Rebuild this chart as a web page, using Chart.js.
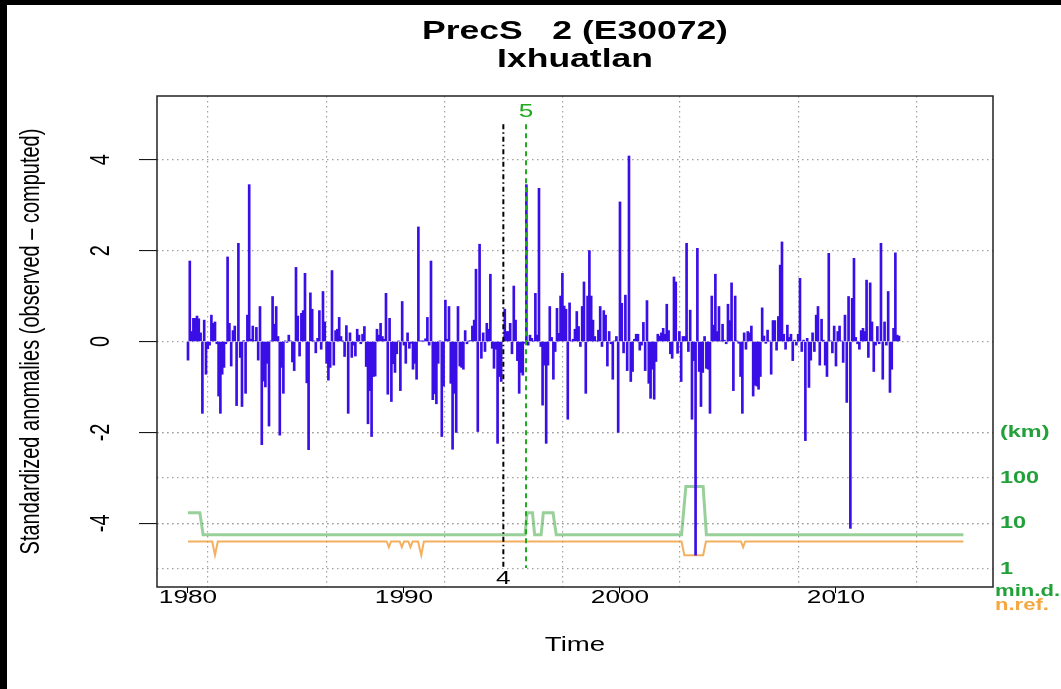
<!DOCTYPE html>
<html>
<head>
<meta charset="utf-8">
<script src="https://cdn.jsdelivr.net/npm/chart.js@4.4.1/dist/chart.umd.min.js"></script>
<style>
  html, body { margin: 0; padding: 0; background: #fff; }
  #wrap { width: 1061px; height: 689px; }
</style>
</head>
<body>
<div id="wrap"><canvas id="c" width="1061" height="689"></canvas></div>
<script>
// monthly standardized anomalies, Jan 1980 .. Dec 2012
let firstYear = 1980;
let anomalies = [
  // 1980 - 1986
  -0.41, 1.77, 0.22, 0.51, 0.51, 0.56, 0.50, 0.19, -1.58, 0.47,
  -0.72, -0.16, -0.08, 0.58, 0.40, 0.43, -0.05, -1.20, -1.58, -0.72,
  -0.57, -0.05, 1.86, 0.40, -0.54, 0.24, 0.34, -1.41, 2.16, -0.35,
  -1.43, 0.02, -1.14, 0.58, 3.45, 0.05, 0.34, 0.02, 0.31, -0.41,
  0.77, -2.27, -0.87, -1.00, -0.48, -1.86, 0.01, 0.99, 0.38, 0.77,
  0.11, -2.06, -0.57, -1.14, 0.01, -0.02, 0.14, 0.01, -0.45, -0.64,
  1.63, 0.56, -0.32, 0.62, 0.68, 1.50, -0.91, -2.38, 1.07, 0.71,
  0.01, -0.25, 0.07, 0.68, -0.17, 1.10, 0.43, -0.48, -0.85,
  // 1986 - 1993
  -0.57, 1.56, -0.52, 0.24, 0.27, 0.53, 0.11, 0.01, -0.33, 0.35,
  -1.58, 0.19, -0.35, -0.08, -0.32, 0.27, 0.14, -0.05, 0.16, 0.33,
  -0.55, -1.81, -1.08, -2.09, -0.77, -0.76, 0.27, 0.14, 0.40, 0.11,
  0.05, 1.06, -1.16, 0.51, -1.32, -0.49, -0.68, -0.27, 0.01, -1.08,
  0.88, -0.08, -0.48, 0.19, -0.15, -0.04, -0.61, -0.48, -0.83, 2.52,
  0.01, 0.01, 0.01, 0.06, 0.53, -0.08, 1.77, -1.28, -1.15, -1.37,
  -0.48, 0.01, -2.09, -0.98, 0.91, 0.05, 0.77, -0.92, -2.37, -1.14,
  -2.00, 0.77, -0.54, -0.57, -0.61, 0.24, -0.05, 0.01, 0.02, 0.34,
  // 1993 - 1999
  0.47, 1.59, -1.98, 2.14, -0.37, 0.19, -0.22, 0.40, 0.27, 1.48,
  -0.15, -0.59, -0.17, -2.24, -0.77, -0.88, 0.01, 0.71, 0.22, 0.22,
  0.40, -0.27, 1.22, 0.47, -0.42, -1.14, -0.68, -0.74, -0.04, 3.45,
  -0.08, 0.14, 0.07, 0.01, 1.06, 0.14, 3.37, -0.11, -1.40, -0.52,
  -2.24, -0.52, 0.77, 0.09, -0.83, -0.22, 0.73, 0.18, 1.00, 1.50,
  0.78, 0.71, -1.71, 0.85, 0.01, 0.05, 0.27, 0.66, 0.33, -0.11,
  0.77, 1.31, -1.14, 1.00, 2.00, 1.00, 0.47, 0.11, 0.01, 0.25,
  0.77, -0.11, 0.68, 0.58, -0.54, 0.22, -0.05, -0.83, 0.01, 0.11,
  // 1999 - 2006
  -2.00, 3.07, 0.84, -0.25, 1.02, -0.64, 4.08, -0.88, -0.66, 0.05,
  0.16, 0.16, -0.19, -0.08, 0.42, -0.64, 0.90, -0.92, -1.25, -0.61,
  -1.27, -0.44, 0.16, 0.12, 0.19, 0.29, 0.16, 0.82, 0.24, -0.27,
  -0.37, 1.42, 1.31, -0.26, 0.22, -0.88, 0.11, 0.11, 2.16, -0.22,
  0.69, -1.71, -0.42, -4.70, 2.05, -0.66, -1.43, -0.68, 0.11, -0.59,
  -0.61, -1.58, 1.00, 0.36, 1.48, 0.22, 0.77, 0.01, 0.38, 0.03,
  -0.05, 0.82, 0.46, 1.29, -1.08, 1.00, 0.01, -0.04, -0.77, -1.58,
  0.19, -0.17, 0.22, 0.19, 0.34, -1.20, -0.96, -0.98, -1.05, -0.77,
  // 2006 - 2012
  0.74, 0.12, -0.04, 0.25, 0.01, -0.72, 0.46, 0.46, -0.19, 0.55,
  1.68, 2.19, 0.16, -0.17, 0.36, 0.09, 0.16, -0.42, 0.03, -0.08,
  0.16, 1.39, -0.22, 0.03, -2.18, 0.07, -1.01, -0.41, 0.19, -0.22,
  0.58, 0.77, -0.52, 0.49, 0.03, -0.52, -0.77, 1.94, 0.01, -0.25,
  0.34, -0.54, 0.22, 0.34, 0.01, -0.46, 0.58, -1.34, 0.99, -4.11,
  0.95, 1.83, 0.09, -0.05, -0.17, 0.24, 0.29, 0.22, 1.35, -0.35,
  1.29, 0.43, -0.66, -0.08, 0.33, -0.05, 2.16, -0.83, 0.43, -0.08,
  1.10, -1.12, -0.61, 0.29, 1.95, 0.14, 0.12
];

// minimum distance to nearest reference station (km)
let minDYears = [1980.0, 1980.55, 1980.7, 1995.6, 1995.7, 1995.95, 1996.05, 1996.35, 1996.45, 1996.9, 1997.05, 2002.85, 2003.05, 2003.85, 2004.0, 2015.9];
let minDKm    = [17, 17, 5.6, 5.6, 17, 17, 5.6, 5.6, 17, 17, 5.6, 5.6, 65, 65, 5.6, 5.6];

// number of reference stations
let nRefYears = [1980.0, 1981.12, 1981.25, 1981.38, 1989.2, 1989.3, 1989.4, 1989.8, 1989.9, 1990.0, 1990.2, 1990.3, 1990.4, 1990.65, 1990.8, 1990.92, 2002.85, 2002.98, 2003.85, 2003.98, 2005.6, 2005.7, 2005.8, 2015.9];
let nRefCount = [4, 4, 2, 4, 4, 3, 4, 4, 3, 4, 4, 3, 4, 4, 2, 4, 4, 2, 2, 4, 4, 3, 4, 4];

// detected breaks
let breakYears  = [1994.6, 1995.65];
let breakLabels = ['4', '5'];
let breakColors = ['#000000', '#1faa1f'];

let yearTicks = [1980, 1990, 2000, 2010];
let gridYears = [1980.93, 1986.44, 1991.9, 1997.36, 2002.78, 2008.29, 2013.75];
let leftTicks = [-4, -2, 0, 2, 4];
let rightTicks = [-5, -4, -3, -2];
let rightLabels = ['1', '10', '100', '(km)'];

let FONT = '"Liberation Sans", Arial, sans-serif';
let SX = 1.38; // text in the picture is drawn wide
let GREEN = '#22a03a';
let ORANGE = '#f4a640';
let gridDash = { display: false, dash: [1.5, 3.5] };

let bars = anomalies.map((v, i) => ({ x: firstYear + i / 12, y: v }));
let minDLine = minDYears.map((t, i) => ({ x: t, y: -5 + Math.log10(minDKm[i]) }));
let nRefLine = nRefYears.map((t, i) => ({ x: t, y: -5 + Math.log10(nRefCount[i]) }));

let breakSets = breakYears.map((t, i) => ({
  type: 'line',
  data: [{ x: t, y: 4.78 }, { x: t, y: -4.98 }],
  borderColor: breakColors[i],
  borderWidth: 2,
  borderDash: i == 0 ? [5, 3, 1.5, 3] : [5, 4],
  pointRadius: 0,
  order: -1
}));

function txt(ctx, s, x, y, font, color, align, rot, sx) {
  ctx.save();
  ctx.translate(x, y);
  ctx.scale(sx || SX, 1);
  if (rot) ctx.rotate(rot);
  ctx.font = font;
  ctx.fillStyle = color;
  ctx.textAlign = align || 'center';
  ctx.textBaseline = 'middle';
  ctx.fillText(s, 0, 0);
  ctx.restore();
}

let decor = {
  id: 'decor',
  beforeDraw(chart) {
    let ctx = chart.ctx;
    ctx.save();
    ctx.fillStyle = '#fff';
    ctx.fillRect(0, 0, chart.width, chart.height);
    ctx.restore();
  },
  afterDraw(chart) {
    let ctx = chart.ctx;
    let a = chart.chartArea;
    let sx = chart.scales.x;
    let sy = chart.scales.y;
    ctx.save();
    // plot box
    ctx.strokeStyle = '#222';
    ctx.lineWidth = 1.5;
    ctx.strokeRect(a.left, a.top, a.right - a.left, a.bottom - a.top);
    // figure frame
    ctx.fillStyle = '#000';
    ctx.fillRect(0, 0, 7, chart.height);
    ctx.fillRect(0, 0, chart.width, 5);
    ctx.restore();

    let cx = (a.left + a.right) / 2;
    txt(ctx, 'PrecS   2 (E30072)', cx, 32, 'bold 25px ' + FONT, '#000', 'center', 0, 1.42);
    txt(ctx, 'Ixhuatlan', cx, 60, 'bold 25px ' + FONT, '#000', 'center', 0, 1.42);
    txt(ctx, 'Time', cx, 645, '20px ' + FONT, '#000');
    txt(ctx, 'Standardized anomalies (observed \u2013 computed)', 31, (a.top + a.bottom) / 2, '20px ' + FONT, '#000', 'center', -Math.PI / 2);

    yearTicks.forEach(v => txt(ctx, String(v), sx.getPixelForValue(v), 598, '19px ' + FONT, '#000'));
    leftTicks.forEach(v => txt(ctx, String(v), 101, sy.getPixelForValue(v), '20px ' + FONT, '#000', 'center', -Math.PI / 2));
    rightTicks.forEach((v, i) => txt(ctx, rightLabels[i], 1000, sy.getPixelForValue(v), 'bold 17px ' + FONT, GREEN, 'left'));

    txt(ctx, breakLabels[1], sx.getPixelForValue(breakYears[1]), 112, '19px ' + FONT, breakColors[1]);
    txt(ctx, breakLabels[0], sx.getPixelForValue(breakYears[0]), 579, '19px ' + FONT, breakColors[0]);

    txt(ctx, 'min.d.', 995, 592, 'bold 16px ' + FONT, GREEN, 'left');
    txt(ctx, 'n.ref.', 995, 606, 'bold 16px ' + FONT, ORANGE, 'left');
  }
};

new Chart(document.getElementById('c'), {
  data: {
    datasets: [
      {
        type: 'bar',
        data: bars,
        backgroundColor: '#3a0ee6',
        borderWidth: 0,
        barThickness: 2,
        order: 0
      },
      {
        type: 'line',
        data: minDLine,
        borderColor: 'rgba(70,170,70,0.55)',
        borderWidth: 3,
        pointRadius: 0,
        order: 2
      },
      {
        type: 'line',
        data: nRefLine,
        borderColor: 'rgba(240,150,40,0.75)',
        borderWidth: 2,
        pointRadius: 0,
        order: 2
      },
      ...breakSets
    ]
  },
  plugins: [decor],
  options: {
    responsive: false,
    animation: false,
    events: [],
    layout: { padding: { top: 96 } },
    plugins: { legend: { display: false }, tooltip: { enabled: false }, title: { display: false } },
    scales: {
      x: {
        type: 'linear',
        offset: false,
        min: 1978.565,
        max: 2017.27,
        afterBuildTicks: s => { s.ticks = yearTicks.map(v => ({ value: v })); },
        afterFit: s => { s.height = 102; },
        grid: { offset: false, drawOnChartArea: false, tickLength: 6, tickColor: '#000', tickWidth: 1 },
        border: { display: false },
        ticks: { display: false }
      },
      xg: {
        type: 'linear',
        position: 'bottom',
        offset: false,
        min: 1978.565,
        max: 2017.27,
        afterBuildTicks: s => { s.ticks = gridYears.map(v => ({ value: v })); },
        afterFit: s => { s.height = 0; },
        grid: { offset: false, drawTicks: false, color: '#a0a0a0', lineWidth: 1.2 },
        border: gridDash,
        ticks: { display: false }
      },
      y: {
        type: 'linear',
        position: 'left',
        min: -5.4,
        max: 5.4,
        afterBuildTicks: s => { s.ticks = leftTicks.map(v => ({ value: v })); },
        afterFit: s => { s.width = 157; },
        grid: { color: '#a0a0a0', lineWidth: 1.2, tickLength: 18, tickColor: '#000', tickBorderDash: [], tickWidth: 1 },
        border: gridDash,
        ticks: { display: false }
      },
      y2: {
        type: 'linear',
        position: 'right',
        min: -5.4,
        max: 5.4,
        afterBuildTicks: s => { s.ticks = rightTicks.map(v => ({ value: v })); },
        afterFit: s => { s.width = 68; },
        grid: { color: '#a0a0a0', lineWidth: 1.2, drawTicks: false },
        border: gridDash,
        ticks: { display: false }
      }
    }
  }
});
</script>
</body>
</html>
